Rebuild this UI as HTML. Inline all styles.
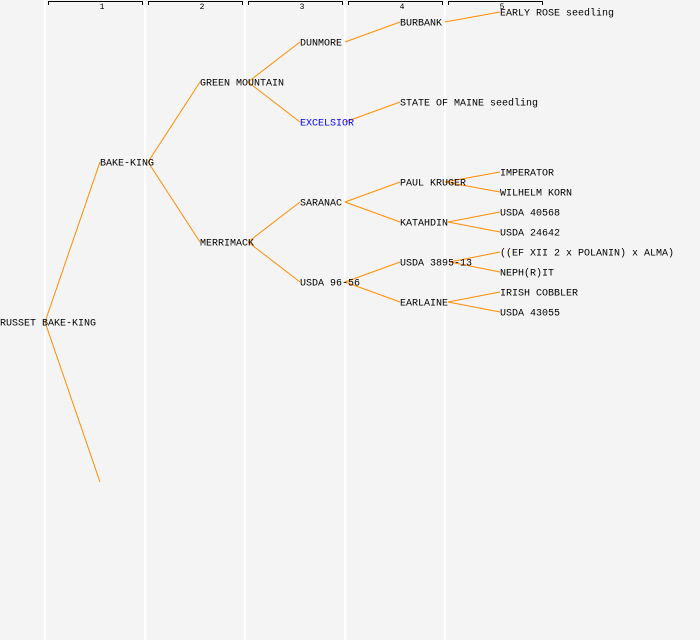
<!DOCTYPE html>
<html><head><style>body{margin:0;background:#f4f4f4}svg{display:block}</style></head><body>
<svg width="700" height="640" xmlns="http://www.w3.org/2000/svg" font-family="Liberation Mono, DejaVu Sans Mono, monospace">
<rect width="700" height="640" fill="#f4f4f4"/>
<g stroke="#fff" stroke-width="2">
<line x1="45" y1="0" x2="45" y2="640"/><line x1="145" y1="0" x2="145" y2="640"/><line x1="245" y1="0" x2="245" y2="640"/><line x1="345" y1="0" x2="345" y2="640"/><line x1="445" y1="0" x2="445" y2="640"/>
</g>
<g stroke="#000" fill="none" stroke-width="1">
<path d="M48.5 5V1.5H142.5V5"/><path d="M148.5 5V1.5H242.5V5"/><path d="M248.5 5V1.5H342.5V5"/><path d="M348.5 5V1.5H442.5V5"/><path d="M448.5 5V1.5H542.5V5"/>
</g>
<g font-size="8" text-anchor="middle" fill="#000">
<text x="102" y="9">1</text><text x="202" y="9">2</text><text x="302" y="9">3</text><text x="402" y="9">4</text><text x="502" y="9">5</text>
</g>
<g stroke="#ff8c00" stroke-width="1" fill="none">
<line x1="45" y1="322" x2="100" y2="162"/><line x1="45" y1="322" x2="100" y2="482"/>
<line x1="148" y1="162" x2="200" y2="82"/><line x1="148" y1="162" x2="200" y2="242"/>
<line x1="248" y1="82" x2="300" y2="42"/><line x1="248" y1="82" x2="300" y2="122"/>
<line x1="248" y1="242" x2="300" y2="202"/><line x1="248" y1="242" x2="300" y2="282"/>
<line x1="345" y1="42" x2="400" y2="22"/><line x1="345" y1="122" x2="400" y2="102"/>
<line x1="345" y1="202" x2="400" y2="182"/><line x1="345" y1="202" x2="400" y2="222"/>
<line x1="345" y1="282" x2="400" y2="262"/><line x1="345" y1="282" x2="400" y2="302"/>
<line x1="445" y1="22" x2="500" y2="12"/>
<line x1="445" y1="182" x2="500" y2="172"/><line x1="445" y1="182" x2="500" y2="192"/>
<line x1="448" y1="222" x2="500" y2="212"/><line x1="448" y1="222" x2="500" y2="232"/>
<line x1="450" y1="262" x2="500" y2="252"/><line x1="450" y1="262" x2="500" y2="272"/>
<line x1="448" y1="302" x2="500" y2="292"/><line x1="448" y1="302" x2="500" y2="312"/>
</g>
<g font-size="10" fill="#000" dominant-baseline="middle">
<text x="0" y="323">RUSSET BAKE-KING</text>
<text x="100" y="163">BAKE-KING</text>
<text x="200" y="83">GREEN MOUNTAIN</text><text x="200" y="243">MERRIMACK</text>
<text x="300" y="43">DUNMORE</text><text x="300" y="123" fill="#0000ff">EXCELSIOR</text><text x="300" y="203">SARANAC</text><text x="300" y="283">USDA 96-56</text>
<text x="400" y="23">BURBANK</text><text x="400" y="103">STATE OF MAINE seedling</text><text x="400" y="183">PAUL KRUGER</text><text x="400" y="223">KATAHDIN</text><text x="400" y="263">USDA 3895-13</text><text x="400" y="303">EARLAINE</text>
<text x="500" y="13">EARLY ROSE seedling</text><text x="500" y="173">IMPERATOR</text><text x="500" y="193">WILHELM KORN</text><text x="500" y="213">USDA 40568</text><text x="500" y="233">USDA 24642</text><text x="500" y="253">((EF XII 2 x POLANIN) x ALMA)</text><text x="500" y="273">NEPH(R)IT</text><text x="500" y="293">IRISH COBBLER</text><text x="500" y="313">USDA 43055</text>
</g>
</svg>
</body></html>
